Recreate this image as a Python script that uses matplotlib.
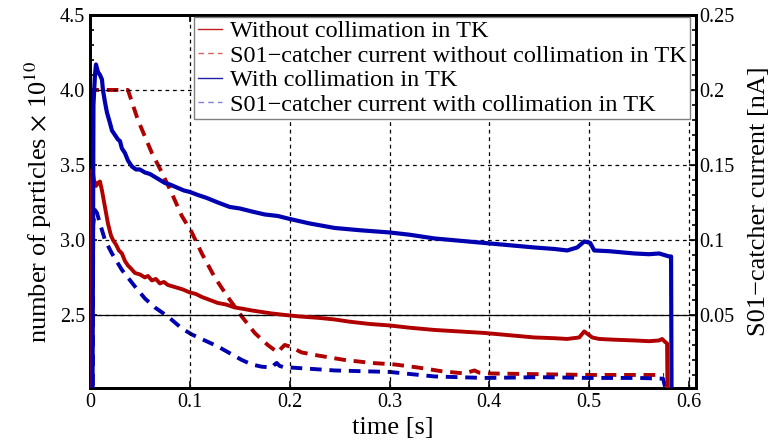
import matplotlib
matplotlib.use('Agg')
from matplotlib import pyplot as plt
from matplotlib.lines import Line2D
from matplotlib.ticker import MultipleLocator, FuncFormatter
import numpy as np

plt.rcParams['font.family'] = 'Liberation Serif'
plt.rcParams['mathtext.fontset'] = 'stix'

# particles without collimation (x 10^10)
t_red = [0.0010, 0.0015, 0.0025, 0.004, 0.006, 0.008, 0.010, 0.012, 0.015, 0.018,
         0.021, 0.023, 0.026, 0.029, 0.032, 0.035, 0.038, 0.041, 0.045, 0.050,
         0.055, 0.058, 0.062, 0.066, 0.070, 0.074, 0.078, 0.083, 0.088, 0.093,
         0.100, 0.106, 0.112, 0.120, 0.128, 0.136, 0.145, 0.154, 0.162, 0.172,
         0.182, 0.195, 0.210, 0.230, 0.245, 0.260, 0.280, 0.300, 0.320, 0.345,
         0.370, 0.395, 0.420, 0.445, 0.465, 0.478, 0.490, 0.495, 0.499, 0.503,
         0.510, 0.525, 0.545, 0.560, 0.570, 0.573, 0.576, 0.578, 0.5785]
n_red = [1.90, 3.30, 3.47, 3.40, 3.36, 3.38, 3.39, 3.33, 3.22, 3.11,
         3.03, 3.00, 2.97, 2.93, 2.91, 2.86, 2.83, 2.81, 2.78, 2.77,
         2.75, 2.76, 2.73, 2.74, 2.71, 2.72, 2.70, 2.69, 2.68, 2.67,
         2.65, 2.64, 2.62, 2.60, 2.58, 2.57, 2.55, 2.54, 2.53, 2.52,
         2.51, 2.50, 2.49, 2.48, 2.47, 2.455, 2.44, 2.43, 2.415, 2.40,
         2.39, 2.38, 2.365, 2.35, 2.345, 2.34, 2.35, 2.39, 2.37, 2.35,
         2.34, 2.335, 2.33, 2.325, 2.33, 2.34, 2.32, 2.31, 1.90]

# particles with collimation (x 10^10)
t_blue = [0.0025, 0.0035, 0.005, 0.006, 0.008, 0.010, 0.012, 0.013, 0.015, 0.017,
          0.020, 0.022, 0.025, 0.028, 0.030, 0.032, 0.035, 0.038, 0.042, 0.046,
          0.050, 0.055, 0.060, 0.065, 0.070, 0.075, 0.080, 0.087, 0.094, 0.100,
          0.108, 0.117, 0.128, 0.140, 0.150, 0.162, 0.175, 0.188, 0.200, 0.220,
          0.245, 0.270, 0.300, 0.320, 0.345, 0.370, 0.395, 0.420, 0.445, 0.465,
          0.478, 0.488, 0.495, 0.501, 0.505, 0.520, 0.545, 0.560, 0.570, 0.575,
          0.580, 0.582, 0.5825]
n_blue = [1.90, 3.90, 4.10, 4.17, 4.12, 4.10, 4.07, 4.00, 3.92, 3.85,
          3.78, 3.73, 3.70, 3.67, 3.66, 3.61, 3.58, 3.53, 3.49, 3.47,
          3.47, 3.45, 3.44, 3.42, 3.40, 3.38, 3.37, 3.35, 3.33, 3.32,
          3.30, 3.28, 3.25, 3.22, 3.21, 3.19, 3.17, 3.16, 3.14, 3.11,
          3.08, 3.065, 3.05, 3.035, 3.01, 2.995, 2.98, 2.965, 2.95, 2.94,
          2.93, 2.95, 2.99, 2.98, 2.93, 2.925, 2.91, 2.905, 2.91, 2.90,
          2.89, 2.89, 1.90]

# S01 catcher current [nA]
t_cur_red = [0.0010, 0.0012, 0.038, 0.042, 0.048, 0.055, 0.062, 0.072, 0.082, 0.092,
             0.102, 0.112, 0.125, 0.138, 0.152, 0.165, 0.178, 0.188, 0.192, 0.195,
             0.200, 0.212, 0.228, 0.255, 0.282, 0.305, 0.328, 0.352, 0.375, 0.380,
             0.385, 0.390, 0.400, 0.450, 0.500, 0.550, 0.575]
i_cur_red = [-0.010, 0.200, 0.200, 0.192, 0.180, 0.169, 0.158, 0.145, 0.131, 0.116,
             0.105, 0.091, 0.075, 0.062, 0.049, 0.038, 0.030, 0.025, 0.028, 0.030,
             0.029, 0.025, 0.023, 0.020, 0.018, 0.017, 0.015, 0.0125, 0.011, 0.012,
             0.013, 0.0115, 0.011, 0.0105, 0.010, 0.010, 0.010]

t_cur_blue = [0.0028, 0.0032, 0.005, 0.007, 0.010, 0.015, 0.022, 0.032, 0.045, 0.055,
              0.065, 0.078, 0.092, 0.102, 0.115, 0.128, 0.140, 0.152, 0.162, 0.172,
              0.182, 0.185, 0.187, 0.190, 0.195, 0.200, 0.245, 0.300, 0.345, 0.395,
              0.450, 0.500, 0.550, 0.574, 0.576, 0.578]
i_cur_blue = [-0.010, 0.110, 0.120, 0.118, 0.111, 0.100, 0.091, 0.080, 0.069, 0.061,
              0.055, 0.049, 0.041, 0.037, 0.033, 0.029, 0.0245, 0.020, 0.017, 0.0155,
              0.015, 0.017, 0.018, 0.016, 0.015, 0.015, 0.013, 0.012, 0.009, 0.008,
              0.0085, 0.008, 0.008, 0.0075, 0.002, -0.010]

labels = ['Without collimation in TK',
          'S01\u2212catcher current without collimation in TK',
          'With collimation in TK',
          'S01\u2212catcher current with collimation in TK']

red = '#b00000'
blue = '#0000b0'

fig = plt.figure(figsize=(7.79, 4.47), dpi=100)
ax = fig.add_axes([0.1155, 0.132, 0.778, 0.8345])
ax2 = ax.twinx()

ax2.plot(t_cur_red, i_cur_red, color=red, lw=2.8, dashes=(3.0, 2.0), zorder=3)
ax2.plot(t_cur_blue, i_cur_blue, color=blue, lw=2.8, dashes=(3.0, 2.0), zorder=3)
ax.plot(t_red, n_red, color=red, lw=2.8, zorder=4)
ax.plot(t_blue, n_blue, color=blue, lw=3.0, zorder=4)
ax.set_zorder(ax2.get_zorder() + 1)
ax.patch.set_visible(False)

ax.set_xlim(0, 0.607)
ax.set_ylim(2.013, 4.5)
ax2.set_ylim(0.0013, 0.25)

ax.xaxis.set_major_locator(MultipleLocator(0.1))
ax.yaxis.set_major_locator(MultipleLocator(0.5))
ax.yaxis.set_minor_locator(MultipleLocator(0.1))
ax2.yaxis.set_major_locator(MultipleLocator(0.05))
ax2.yaxis.set_minor_locator(MultipleLocator(0.01))
ax.xaxis.set_major_formatter(FuncFormatter(lambda v, p: '%g' % round(v, 3)))
ax.yaxis.set_major_formatter(FuncFormatter(lambda v, p: '%.1f' % v))
ax2.yaxis.set_major_formatter(FuncFormatter(lambda v, p: '%g' % round(v, 3)))

ax.tick_params(axis='both', which='both', direction='in', labelsize=14.5,
               top=True, right=False, width=1.2)
ax.tick_params(which='major', length=5)
ax.tick_params(which='minor', length=3)
ax2.tick_params(axis='y', which='both', direction='in', labelsize=14.5, width=1.2, pad=2)
ax2.tick_params(which='major', length=5)
ax2.tick_params(which='minor', length=3)

ax.grid(True, which='major', color='k', ls=(0, (3, 3)), lw=0.9)
ax.axhline(2.5, color='k', lw=0.9, zorder=1)

for a in (ax, ax2):
    for s in a.spines.values():
        s.set_linewidth(2)

ax.set_xlabel('time [s]', fontsize=19, labelpad=4)
ax.set_ylabel(r'number of particles $\times$ 10$^{10}$', fontsize=19, labelpad=4)
ax2.set_ylabel('S01\u2212catcher current [nA]', fontsize=19, labelpad=10)

handles = [Line2D([], [], color='#c02020', lw=1),
           Line2D([], [], color='#e06060', lw=1, ls=(0, (4, 3))),
           Line2D([], [], color='#2020a0', lw=1),
           Line2D([], [], color='#8080e0', lw=1, ls=(0, (4, 3)))]
leg = ax.legend(handles, labels, loc='upper right', bbox_to_anchor=(0.99, 0.995),
                fontsize=17.5, handlelength=1.0, handletextpad=0.3,
                labelspacing=0.1, borderpad=0.15, borderaxespad=0,
                fancybox=False, framealpha=1, edgecolor='#808080')
leg.get_frame().set_linewidth(1.0)
leg.set_zorder(10)

fig.savefig('out.png', dpi=100)
